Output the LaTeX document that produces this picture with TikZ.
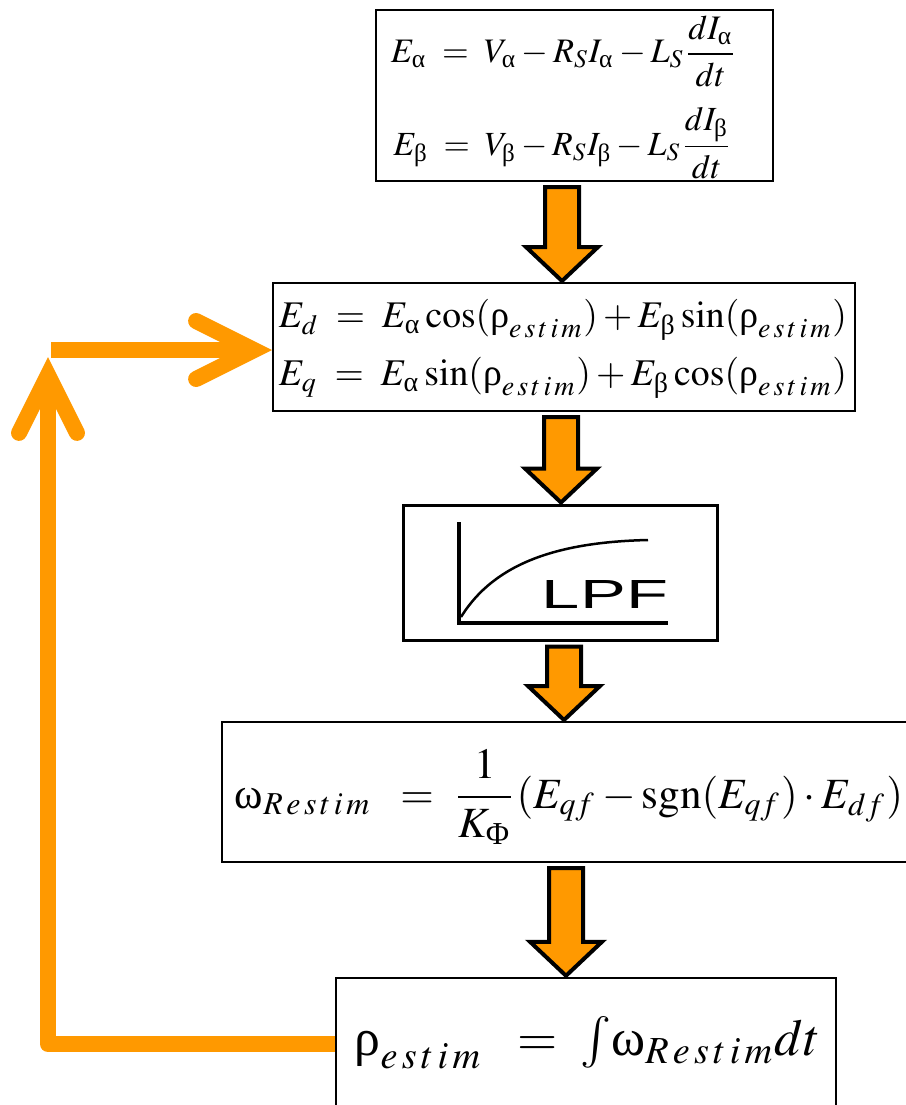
\documentclass[tikz,border=0pt]{standalone}
\usepackage[no-math]{fontspec}
\usepackage{amsmath}
\usepackage{mathptmx}
\usepackage{graphicx}
\usetikzlibrary{arrows.meta,calc}
\newfontfamily\lpffont{Liberation Sans}
\newfontfamily\grk{Liberation Serif}
\newcommand\ga{\text{\grk α}}
\newcommand\gb{\text{\grk β}}
\newcommand\gr{\text{\grk ρ}}
\newcommand\gw{\text{\grk ω}}
\newcommand\gF{\text{\grk Φ}}
\newcommand\est{e\mkern2mu s\mkern2mu t\mkern2mu i\mkern2mu m}
\newcommand\rest{R\mkern2mu e\mkern2mu s\mkern2mu t\mkern2mu i\mkern2mu m}
\definecolor{forange}{RGB}{255,153,0}
\newcommand\fitw[2]{\resizebox{#1pt}{!}{$\displaystyle #2$}}
\newcommand\fatarrow[3]{%
  \path[fatarr] let \p1=(#2.south), \p2=(#3.north) in
  (#1-17,\y1-5) -- (#1+17,\y1-5) -- (#1+17,\y2+35) -- (#1+36,\y2+35)
  -- (#1,\y2+1) -- (#1-36,\y2+35) -- (#1-17,\y2+35) -- cycle;}
\begin{document}
\begin{tikzpicture}[x=1pt,y=-1pt,
  box/.style={draw,line width=2pt,inner sep=0pt,fill=white},
  fatarr/.style={fill=forange,draw=black,line width=4pt,line join=miter},
  fb/.style={draw=forange,line width=16pt,line join=round,
    -{Straight Barb[length=58pt,width=58pt,line cap=round]}},
  eq/.style={inner sep=0pt}]
\useasboundingbox (0,0) rectangle (905,1105);
% boxes
\node[box,minimum width=397pt,minimum height=171pt] (b1) at (574.5,95.5) {};
\node[box,minimum width=582pt,minimum height=128pt] (b2) at (564,347) {};
\node[box,line width=3pt,minimum width=314pt,minimum height=135pt] (b3) at (560,572.5) {};
\node[box,minimum width=690pt,minimum height=140pt] (b4) at (567,792) {};
\node[box,line width=2.5pt,minimum width=500pt,minimum height=142pt] (b5) at (586,1049) {};
% texts
\node[eq] (t1a) at (564,51) {\fitw{346}{E_\ga \;=\; V_\ga - R_S I_\ga - L_S \frac{dI_\ga}{dt}}};
\node[eq] (t1b) at (563,143) {\fitw{339}{E_\gb \;=\; V_\gb - R_S I_\gb - L_S \frac{dI_\gb}{dt}}};
\node[eq] (t2a) at (563,320) {\fitw{568}{E_d \;=\; E_\ga\cos(\gr_{\est}) + E_\gb\sin(\gr_{\est})}};
\node[eq] (t2b) at (563,378) {\fitw{568}{E_q \;=\; E_\ga\sin(\gr_{\est}) + E_\gb\cos(\gr_{\est})}};
\node[eq] (t4) at (569,797) {\fitw{668}{\gw_{\rest} \;\;=\; \frac{1}{K_\gF}(E_{qf} - \mathrm{sgn}(E_{qf})\cdot E_{df})}};
\node[eq] (t5) at (587.5,1043) {\fitw{465}{\gr_{\est} \;\;=\; {\textstyle\int}\gw_{\rest}dt}};
% LPF graphic
\draw[line width=4pt] (459,522) -- (459,623) -- (668,623);
\draw[line width=2.5pt] (461,617) .. controls (495,562) and (560,542) .. (648,540);
\node[eq] (lpf) at (605,594) {\resizebox{126pt}{28pt}{\lpffont LPF}};
% block arrows
\fatarrow{562}{b1}{b2}
\fatarrow{561}{b2}{b3}
\fatarrow{564}{b3}{b4}
\fatarrow{566}{b4}{b5}
% feedback
\coordinate (c1) at (48,1044);
\coordinate (c2) at (48,357);
\coordinate (c3) at (51,350);
\draw[fb] (b5.west |- c1) -- (c1) -- (c2);
\draw[fb] (c3) -- (b2.west |- c3);
\end{tikzpicture}
\end{document}
